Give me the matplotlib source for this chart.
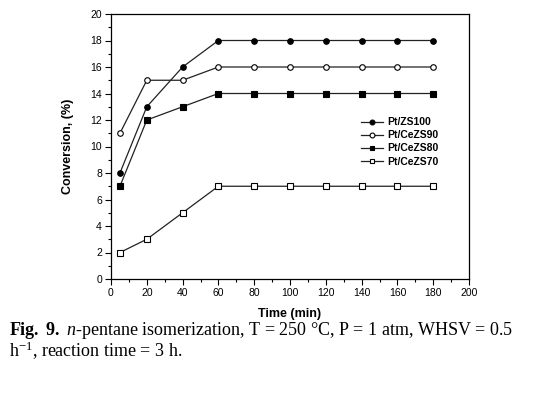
import matplotlib
matplotlib.use("Agg")
import matplotlib.pyplot as plt
from matplotlib.ticker import MultipleLocator

time = [5, 20, 40, 60, 80, 100, 120, 140, 160, 180]
zs100 = [8, 13, 16, 18, 18, 18, 18, 18, 18, 18]
cezs90 = [11, 15, 15, 16, 16, 16, 16, 16, 16, 16]
cezs80 = [7, 12, 13, 14, 14, 14, 14, 14, 14, 14]
cezs70 = [2, 3, 5, 7, 7, 7, 7, 7, 7, 7]
labels = ["Pt/ZS100", "Pt/CeZS90", "Pt/CeZS80", "Pt/CeZS70"]

plt.rcParams['font.family'] = ['Liberation Sans', 'DejaVu Sans']
plt.rcParams['mathtext.fontset'] = 'custom'
plt.rcParams['mathtext.rm'] = 'Liberation Serif'
plt.rcParams['mathtext.it'] = 'Liberation Serif:italic'
plt.rcParams['mathtext.bf'] = 'Liberation Serif:bold'

W, H = 542, 394
fig = plt.figure(figsize=(W / 100, H / 100), dpi=100)
ax = fig.add_axes([111 / W, 1 - 279 / H, (469 - 111) / W, (279 - 14) / H])

series = [(zs100, 'o', 'black'), (cezs90, 'o', 'white'), (cezs80, 's', 'black'), (cezs70, 's', 'white')]
for (vals, m, fc), lab in zip(series, labels):
    ax.plot(time, vals, color='#222222', lw=0.9, marker=m, markersize=4,
            markerfacecolor=fc, markeredgecolor='black', markeredgewidth=0.8, label=lab)

ax.set_xlim(0, 200)
ax.set_ylim(0, 20)
ax.xaxis.set_major_locator(MultipleLocator(20))
ax.xaxis.set_minor_locator(MultipleLocator(10))
ax.yaxis.set_major_locator(MultipleLocator(2))
ax.yaxis.set_minor_locator(MultipleLocator(1))
ax.tick_params(which='major', direction='out', length=4, width=0.8, labelsize=7.5, pad=2.5)
ax.tick_params(which='minor', direction='out', length=2, width=0.8)
for s in ax.spines.values():
    s.set_linewidth(0.9)

ax.set_xlabel('Time (min)', fontsize=9, fontweight='bold', labelpad=7)
ax.set_ylabel('Conversion, (%)', fontsize=9, fontweight='bold', labelpad=12)

leg = ax.legend(loc='upper left', bbox_to_anchor=((356 - 111) / 358, (279 - 112) / 265),
                frameon=False, prop={'size': 7.5, 'weight': 'bold'}, handlelength=2.1,
                handletextpad=0.4, labelspacing=0.3, borderpad=0)
for h in leg.legend_handles:
    h.set_markersize(3.5)

fig.text(9 / W, 1 - 335 / H,
         r'$\mathbf{Fig.}$ $\mathbf{9.}$ $n$-pentane isomerization, T = 250 °C, P = 1 atm, WHSV = 0.5',
         fontsize=13, family='Liberation Serif', ha='left', va='baseline')
fig.text(9 / W, 1 - 357 / H,
         r'h$^{-1}$, reaction time = 3 h.',
         fontsize=13, family='Liberation Serif', ha='left', va='baseline')

fig.savefig('out.png', dpi=100)
